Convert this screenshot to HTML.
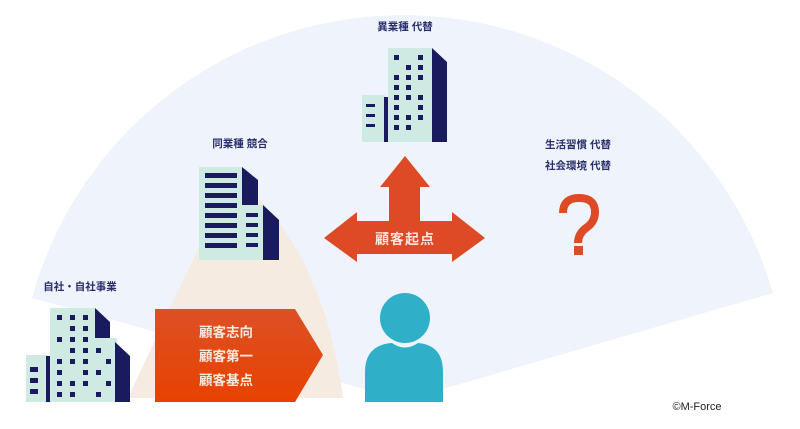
<!DOCTYPE html>
<html><head><meta charset="utf-8"><style>
body{margin:0;background:#fff;}
svg{display:block}
text{font-family:"Liberation Sans","Noto Sans CJK JP",sans-serif;font-weight:bold}
text.n{font-weight:normal}
</style></head><body>
<svg width="800" height="429" viewBox="0 0 800 429" xmlns="http://www.w3.org/2000/svg">
<rect width="800" height="429" fill="#fff"/>
<path d="M405,400 L773,293 A385,385 0 0 0 32,298 Z" fill="#eef3fc"/>
<path d="M226,192 Q185,275 128,398 L343,398 Q325,262 252,192 Z" fill="#f6ebe0"/>

<!-- top building -->
<rect x="362" y="95" width="23" height="47" fill="#cfe9e3"/>
<rect x="384" y="97" width="5" height="45" fill="#1a1a5e"/>
<rect x="388" y="48" width="44" height="94" fill="#cfe9e3"/>
<path d="M432,48 L447,62 L447,142 L432,142 Z" fill="#1a1a5e"/>
<g fill="#1a1a5e">
<rect x="366" y="104" width="9" height="3"/><rect x="366" y="114" width="9" height="3"/><rect x="366" y="124" width="9" height="3"/>
<rect x="394" y="55" width="5" height="5"/><rect x="418" y="55" width="5" height="5"/>
<rect x="406" y="65" width="5" height="5"/><rect x="418" y="65" width="5" height="5"/>
<rect x="394" y="75" width="5" height="5"/><rect x="406" y="75" width="5" height="5"/><rect x="418" y="75" width="5" height="5"/>
<rect x="394" y="85" width="5" height="5"/><rect x="406" y="85" width="5" height="5"/>
<rect x="394" y="95" width="5" height="5"/><rect x="406" y="95" width="5" height="5"/><rect x="418" y="95" width="5" height="5"/>
<rect x="394" y="105" width="5" height="5"/><rect x="418" y="105" width="5" height="5"/>
<rect x="394" y="115" width="5" height="5"/><rect x="406" y="115" width="5" height="5"/><rect x="418" y="115" width="5" height="5"/>
<rect x="394" y="125" width="5" height="5"/><rect x="406" y="125" width="5" height="5"/>
</g>

<!-- building 2 -->
<rect x="199" y="167" width="44" height="93" fill="#cfe9e3"/>
<path d="M242,167 L258,180 L258,222 L242,222 Z" fill="#1a1a5e"/>
<rect x="242" y="205" width="21" height="55" fill="#cfe9e3"/>
<path d="M263,205 L279,220 L279,260 L263,260 Z" fill="#1a1a5e"/>
<g fill="#1a1a5e">
<rect x="205" y="173" width="32" height="5"/><rect x="205" y="183" width="32" height="5"/><rect x="205" y="193" width="32" height="5"/>
<rect x="205" y="203" width="32" height="5"/><rect x="205" y="213" width="32" height="5"/><rect x="205" y="223" width="32" height="5"/>
<rect x="205" y="233" width="32" height="5"/><rect x="205" y="243" width="32" height="5"/>
<rect x="246" y="213" width="12" height="4"/><rect x="246" y="223" width="12" height="4"/><rect x="246" y="233" width="12" height="4"/><rect x="246" y="243" width="12" height="4"/>
</g>

<!-- building 3 -->
<rect x="26" y="355" width="22" height="47" fill="#cfe9e3"/>
<rect x="46" y="356" width="4" height="46" fill="#1a1a5e"/>
<rect x="50" y="308" width="45" height="94" fill="#cfe9e3"/>
<path d="M95,308 L110,322 L110,345 L95,345 Z" fill="#1a1a5e"/>
<rect x="95" y="338" width="22" height="64" fill="#cfe9e3"/>
<path d="M115,342 L130,356 L130,402 L115,402 Z" fill="#1a1a5e"/>
<g fill="#1a1a5e">
<rect x="30" y="367" width="8" height="5"/><rect x="30" y="378" width="8" height="5"/><rect x="30" y="389" width="8" height="5"/>
<rect x="57" y="315" width="5" height="5"/><rect x="70" y="315" width="5" height="5"/><rect x="83" y="315" width="5" height="5"/>
<rect x="70" y="326" width="5" height="5"/><rect x="83" y="326" width="5" height="5"/>
<rect x="57" y="337" width="5" height="5"/><rect x="70" y="337" width="5" height="5"/><rect x="83" y="337" width="5" height="5"/>
<rect x="70" y="348" width="5" height="5"/><rect x="83" y="348" width="5" height="5"/><rect x="96" y="348" width="5" height="5"/>
<rect x="57" y="359" width="5" height="5"/><rect x="70" y="359" width="5" height="5"/><rect x="83" y="359" width="5" height="5"/><rect x="106" y="359" width="5" height="5"/>
<rect x="57" y="370" width="5" height="5"/><rect x="83" y="370" width="5" height="5"/><rect x="96" y="370" width="5" height="5"/>
<rect x="57" y="381" width="5" height="5"/><rect x="70" y="381" width="5" height="5"/><rect x="83" y="381" width="5" height="5"/><rect x="106" y="381" width="5" height="5"/>
<rect x="57" y="392" width="5" height="5"/><rect x="70" y="392" width="5" height="5"/><rect x="96" y="392" width="5" height="5"/>
</g>

<!-- orange pentagon -->
<defs><linearGradient id="g" x1="0" y1="0" x2="0" y2="1"><stop offset="0" stop-color="#dc5026"/><stop offset="1" stop-color="#e84200"/></linearGradient></defs>
<path d="M155,309 L295,309 L323,355 L295,402 L155,402 Z" fill="url(#g)"/>
<g fill="#f6ebe0" font-size="13.5">
<text x="199" y="337">顧客志向</text>
<text x="199" y="361">顧客第一</text>
<text x="199" y="385">顧客基点</text>
</g>

<!-- cross arrow -->
<path d="M324,238 L357,212 L357,221 L389,221 L389,187 L380,187 L405,156 L430,187 L420,187 L420,221 L452,221 L452,212 L485,238 L452,262 L452,254 L357,254 L357,262 Z" fill="#dd4a25"/>
<text x="405" y="244" fill="#f6e6df" font-size="14" text-anchor="middle" letter-spacing="1">顧客起点</text>

<!-- person -->
<path d="M365,402 L365,372 Q365,345 392,343 Q405,352 418,343 Q443,345 443,372 L443,402 Z" fill="#2fb0c8"/>
<circle cx="405" cy="318" r="25" fill="#2fb0c8"/>

<!-- question mark -->
<path d="M563,213 Q563,198 579,198 Q595,198 595,212 Q595,222 586,228 Q578,234 578,243" fill="none" stroke="#dd4a25" stroke-width="8"/>
<rect x="574" y="246" width="9" height="9" fill="#dd4a25"/>

<g fill="#2a2f6b" font-size="10.5">
<text x="405" y="30" text-anchor="middle">異業種 代替</text>
<text x="240" y="147" text-anchor="middle">同業種 競合</text>
<text x="578" y="148" text-anchor="middle">生活習慣 代替</text>
<text x="578" y="169" text-anchor="middle">社会環境 代替</text>
<text x="80" y="290" text-anchor="middle">自社・自社事業</text>
</g>
<text class="n" x="697" y="410" fill="#222" font-size="11" text-anchor="middle">©M-Force</text>
</svg>
</body></html>
